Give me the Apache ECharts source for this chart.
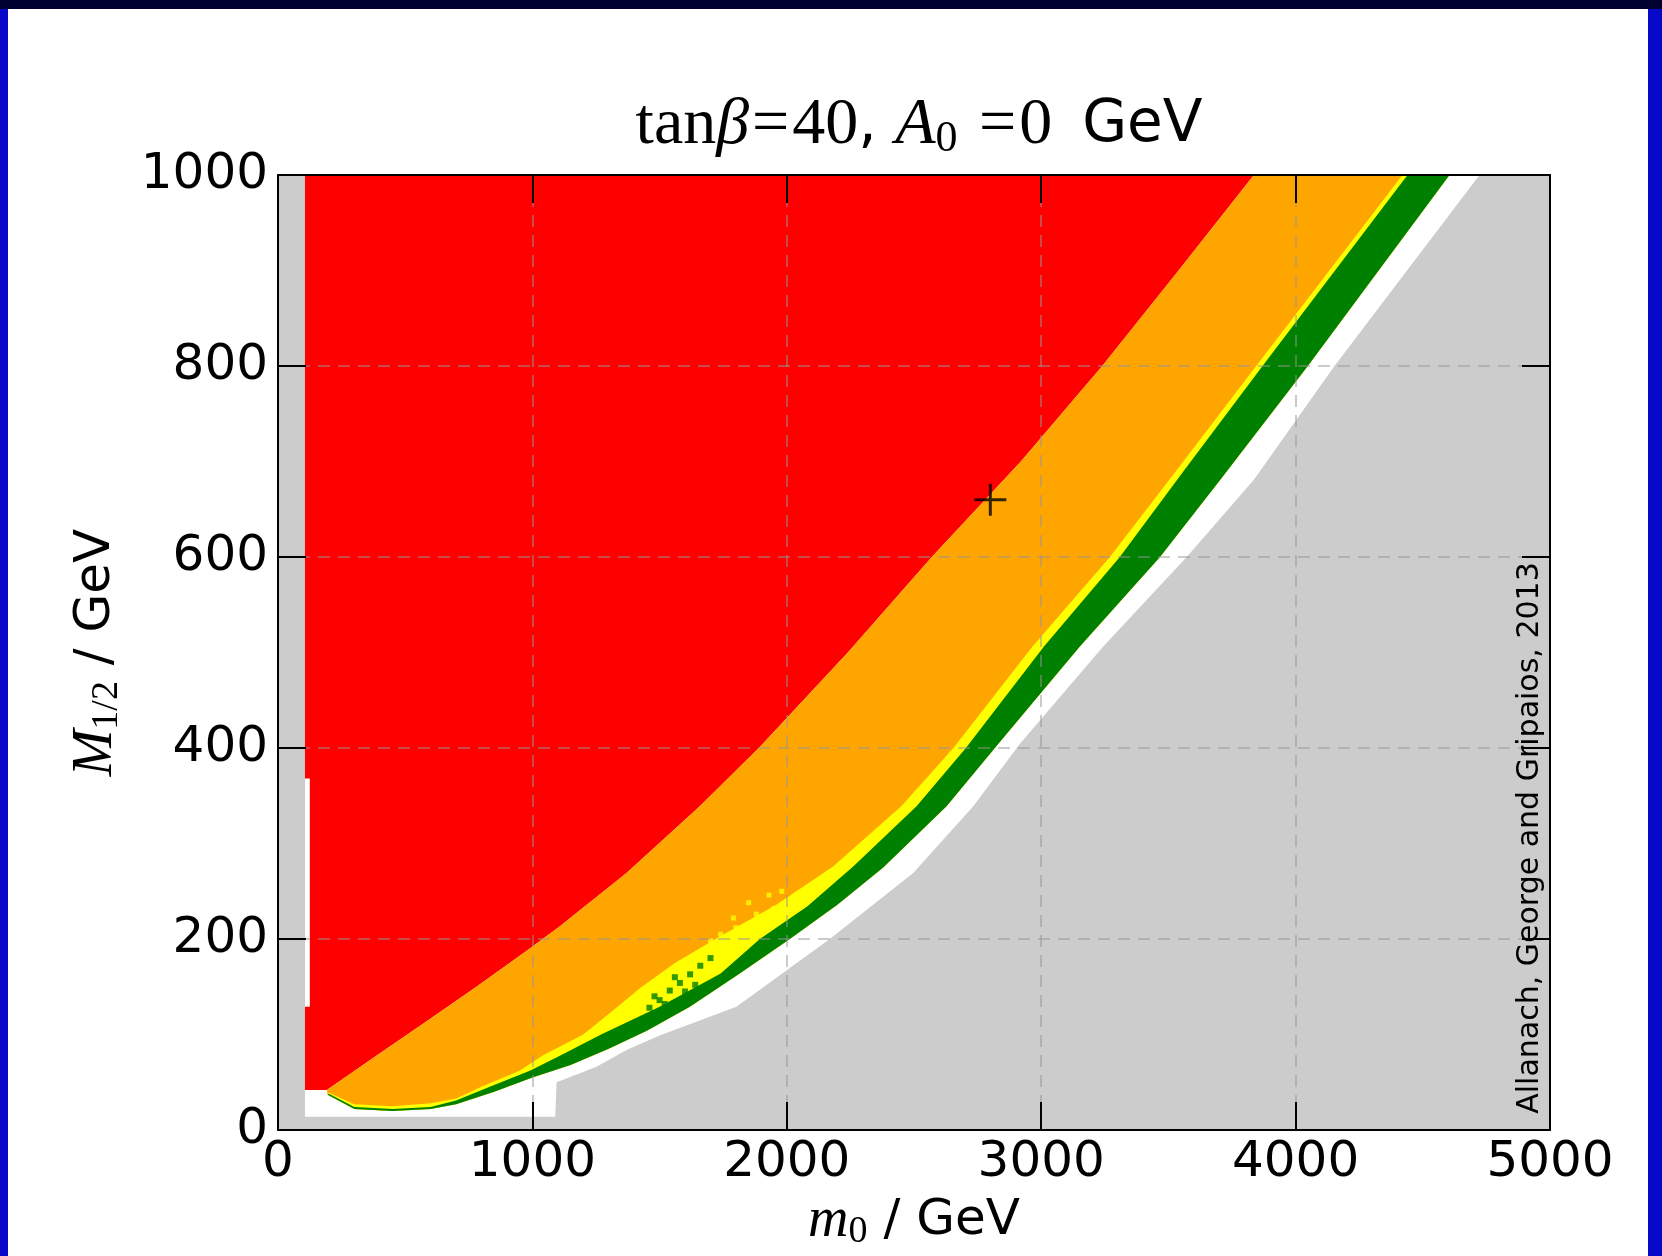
<!DOCTYPE html>
<html>
<head>
<meta charset="utf-8">
<script src="https://cdn.jsdelivr.net/npm/echarts@6/dist/echarts.min.js"></script>
<style>
  body { margin: 0; background: #0808c8; }
  #topband { position: absolute; left: 0; top: 0; width: 1662px; height: 9px; background: #000030; }
  #panel { position: absolute; left: 8px; top: 9px; width: 1640px; height: 1247px; background: #fff; }
  #chart { position: absolute; left: 0; top: 0; width: 1662px; height: 1256px; }
</style>
</head>
<body>
<div id="topband"></div>
<div id="panel"></div>
<div id="chart"></div>
<script>
// boundaries, [m0, M1/2] in GeV
const redEdge = [[192,42],[388,78],[580,113],[780,150],[979,188],[1107,213],[1370,269],[1658,339],[1890,400],[2240,500],[2570,600],[2920,700],[3240,800],[3540,900],[3836,1000]];
const yellowEdge = [[200,39],[300,27],[450,25],[600,28],[700,33],[806,46],[950,62],[1040,78],[1200,100],[1330,128],[1420,148],[1560,175],[1720,200],[1960,236],[2182,276],[2450,339],[2655,400],[2965,506],[3270,600],[3530,690],[3845,800],[4420,1000]];
const greenInner = [[200,38],[300,24],[450,22],[600,24],[700,31],[830,45],[990,62],[1110,78],[1270,100],[1500,129],[1740,164],[1894,200],[2080,234],[2261,276],[2510,339],[2704,400],[3010,506],[3309,600],[3560,690],[3870,800],[4440,1000]];
const greenOuter = [[195,37],[300,22],[450,20],[600,22],[700,27],[850,40],[1000,55],[1150,68],[1300,85],[1450,104],[1619,129],[1815,164],[2012,200],[2200,236],[2379,275],[2628,339],[2830,404],[3151,506],[3467,600],[3704,681],[4048,800],[4605,1000]];
const grayEdge = [[1095,50],[1250,66],[1372,84],[1500,99],[1802,129],[2169,200],[2497,269],[2733,339],[2915,404],[3243,506],[3572,600],[3836,681],[4153,800],[4723,1000]];
const whiteStrip = [[106,129],[125,129],[125,368],[106,368]];
const leftEdge = 106;
const floorM = 14;
const yellowDots = [[1740,205],[1790,222],[1850,238],[1900,215],[1950,232],[1820,200],[1880,226],[2000,238],[1760,192],[1930,246],[2050,240],[1700,198],[1800,212],[1980,250]];
const greenDots = [[1460,128],[1500,136],[1540,146],[1580,154],[1620,163],[1660,172],[1700,180],[1480,140],[1560,160],[1640,152],[1600,145],[1520,132]];
const bestFit = [[2800, 660]];

const palette = { white: '#ffffff', red: '#ff0000', orange: '#ffa500', yellow: '#ffff00', green: '#008000' };

const rev = (a) => a.slice().reverse();
const regions = [
  { pts: [[leftEdge, floorM], [1090, floorM], ...grayEdge, [leftEdge, 1000]], color: palette.white },
  { pts: [[leftEdge, 42], [leftEdge, 1000], ...rev(redEdge)], color: palette.red },
  { pts: whiteStrip, color: palette.white },
  { pts: [...redEdge, ...rev(greenOuter)], color: palette.orange },
  { pts: [...yellowEdge, ...rev(greenOuter)], color: palette.yellow },
  { pts: [...greenInner, ...rev(greenOuter)], color: palette.green },
];

const chart = echarts.init(document.getElementById('chart'), null, { renderer: 'canvas' });

const tickFont = { fontSize: 50, color: '#000', fontFamily: 'DejaVu Sans', formatter: (v) => String(v) };
const frameLine = { show: true, onZero: false, lineStyle: { color: '#000', width: 2 } };
const ticksIn = { show: true, inside: true, length: 28, lineStyle: { color: '#000', width: 2 } };
const grid = { show: true, lineStyle: { color: 'rgba(150,150,150,0.65)', width: 1.5, type: [12, 8] } };
const mathRich = {
  it: { fontFamily: 'Liberation Serif', fontStyle: 'italic', fontSize: 56, color: '#000' },
  sub: { fontFamily: 'Liberation Serif', fontSize: 38, color: '#000', padding: [22, 0, 0, 0] },
  sf: { fontFamily: 'DejaVu Sans', fontSize: 50, color: '#000' },
};

const option = {
  animation: false,
  title: {
    text: '{rm|tan}{it|β}{eq|=}{rm|40}{sf|, }{it|A}{sub|0}{sf| }{eq|=}{rm|0}{gev|GeV}',
    left: 914,
    top: 86,
    textAlign: 'center',
    textStyle: {
      fontWeight: 'normal',
      rich: {
        rm: { fontFamily: 'Liberation Serif', fontSize: 66, fontWeight: 'normal', color: '#000' },
        eq: { fontFamily: 'Liberation Serif', fontSize: 66, fontWeight: 'normal', color: '#000', padding: [0, 3, 0, 3] },
        it: { fontFamily: 'Liberation Serif', fontStyle: 'italic', fontWeight: 'normal', fontSize: 66, color: '#000' },
        sub: { fontFamily: 'Liberation Serif', fontSize: 44, fontWeight: 'normal', color: '#000', padding: [26, 0, 0, 0] },
        sf: { fontFamily: 'DejaVu Sans', fontSize: 58, fontWeight: 'normal', color: '#000' },
        gev: { fontFamily: 'DejaVu Sans', fontSize: 58, fontWeight: 'normal', color: '#000', padding: [0, 0, 0, 30] },
      },
    },
  },
  grid: {
    left: 278, top: 175, width: 1272, height: 955,
    containLabel: false, outerBoundsMode: 'none',
    show: true, backgroundColor: '#cccccc', borderWidth: 0,
  },
  xAxis: [
    {
      type: 'value', min: 0, max: 5000, interval: 1000, position: 'bottom', z: 10,
      axisLine: frameLine, axisTick: ticksIn, splitLine: grid,
      axisLabel: { ...tickFont, margin: 8 },
      name: '{it|m}{sub|0}{sf| / GeV}', nameLocation: 'middle', nameGap: 58,
      nameTextStyle: { rich: mathRich },
    },
    {
      type: 'value', min: 0, max: 5000, interval: 1000, position: 'top', z: 10,
      axisLine: frameLine, axisTick: ticksIn, splitLine: { show: false }, axisLabel: { show: false },
    },
  ],
  yAxis: [
    {
      type: 'value', min: 0, max: 1000, interval: 200, position: 'left', z: 10,
      axisLine: frameLine, axisTick: ticksIn, splitLine: grid,
      axisLabel: { ...tickFont, margin: 10 },
      name: '{it|M}{sub|1/2}{sf| / GeV}', nameLocation: 'middle', nameGap: 152, nameRotate: 90,
      nameTextStyle: { rich: mathRich },
    },
    {
      type: 'value', min: 0, max: 1000, interval: 200, position: 'right', z: 10,
      axisLine: frameLine, axisTick: ticksIn, splitLine: { show: false }, axisLabel: { show: false },
    },
  ],
  graphic: [
    {
      type: 'text', x: 1530, y: 838, rotation: Math.PI / 2, z: 20,
      style: { text: 'Allanach, George and Gripaios, 2013', fontSize: 30, fontFamily: 'DejaVu Sans', fill: '#000', align: 'center', verticalAlign: 'middle' },
    },
  ],
  series: [
    {
      type: 'custom',
      silent: true,
      clip: true,
      data: regions.map((r, i) => [i]),
      renderItem: (params, api) => {
        const r = regions[params.dataIndex];
        return {
          type: 'polygon',
          shape: { points: r.pts.map((p) => api.coord(p)) },
          style: { fill: r.color },
        };
      },
    },
    {
      type: 'scatter', data: yellowDots, symbol: 'rect', symbolSize: 5,
      itemStyle: { color: palette.yellow }, silent: true,
    },
    {
      type: 'scatter', data: greenDots, symbol: 'rect', symbolSize: 6,
      itemStyle: { color: palette.green }, silent: true,
    },
    {
      type: 'scatter', data: bestFit, z: 15, symbolSize: 32,
      symbol: 'path://M0,14.5 L32,14.5 L32,17.5 L0,17.5 Z M14.5,0 L17.5,0 L17.5,32 L14.5,32 Z',
      itemStyle: { color: '#000' }, silent: true,
    },
  ],
};

chart.setOption(option);
</script>
</body>
</html>
